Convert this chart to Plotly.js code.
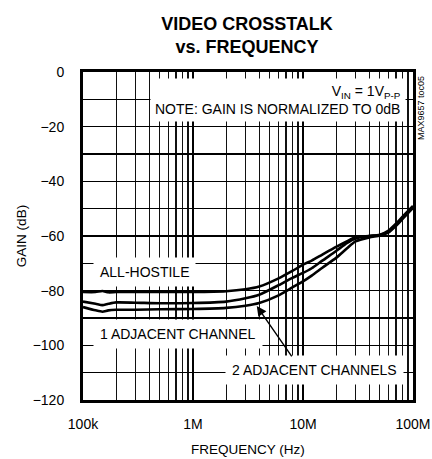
<!DOCTYPE html>
<html>
<head>
<meta charset="utf-8">
<script src="https://cdn.plot.ly/plotly-3.0.1.min.js"></script>
<style>html,body{margin:0;padding:0;background:#fff;}#chart{width:432px;height:459px;}</style>
</head>
<body>
<div id="chart"></div>
<script>
// Frequency (Hz)
const freq = [1e5, 1.3e5, 1.5e5, 1.7e5, 2e5, 3e5, 5e5, 1e6, 2e6, 3e6, 4e6, 6e6, 8e6, 1e7, 1.2e7, 1.5e7, 2e7, 2.5e7, 3e7, 4e7, 5e7, 6e7, 7e7, 8e7, 1e8];
// Gain (dB)
const allHostile = [-80.5, -80.5, -80.1, -80.6, -80.5, -80.5, -80.5, -80.5, -80.2, -79.5, -78.5, -75.5, -72.8, -70.5, -69, -66.8, -64, -62, -60.5, -60, -59.5, -58, -55.5, -53, -49];
const oneAdj = [-84, -84.8, -85.3, -84.8, -84.3, -84.4, -84.6, -84.5, -84, -82.8, -81.5, -78, -75.3, -73.5, -71.8, -69, -65.5, -62.6, -60.9, -60, -59.6, -58.4, -56, -53.5, -49.4];
const twoAdj = [-86, -87.2, -87.7, -87.2, -87, -87, -86.8, -86.7, -86.3, -85.5, -84.5, -81.7, -78.8, -76.6, -74.5, -71.6, -68, -64.6, -62, -60.5, -59.8, -58.7, -56.3, -53.8, -49.7];

const xTickVals = [1e5, 1e6, 1e7, 1e8];
const xTickText = ['100k', '1M', '10M', '100M'];
const decades = [1e5, 1e6, 1e7];
const minorMult = [2, 3, 4, 5, 6, 7, 8, 9];
const xMinorVals = [];
decades.forEach(d => minorMult.forEach(m => xMinorVals.push(d * m)));

const lineStyle = {color: '#000', width: 2.6, shape: 'spline', smoothing: 0.6};
const traces = [
  {x: freq, y: allHostile, mode: 'lines', line: lineStyle, name: 'ALL-HOSTILE'},
  {x: freq, y: oneAdj, mode: 'lines', line: lineStyle, name: '1 ADJACENT CHANNEL'},
  {x: freq, y: twoAdj, mode: 'lines', line: lineStyle, name: '2 ADJACENT CHANNELS'}
];

const FONT = '"Liberation Sans", Arial, sans-serif';
const L = 83, R = 413, T = 72, B = 400, W = 432, H = 459;
const px = x => (x - L) / (R - L);
const py = y => (B - y) / (B - T);

const layout = {
  width: W, height: H,
  margin: {l: L, r: W - R, t: T, b: H - B, pad: 0},
  paper_bgcolor: '#fff', plot_bgcolor: '#fff',
  showlegend: false,
  font: {family: FONT, size: 14, color: '#000'},
  title: {
    text: '<b>VIDEO CROSSTALK<br>vs. FREQUENCY</b>',
    font: {family: FONT, size: 18, color: '#000'},
    x: px(247), xref: 'paper', xanchor: 'center',
    y: 1 - 30 / H, yref: 'container', yanchor: 'middle'
  },
  xaxis: {
    type: 'log', range: [5, 8],
    tickvals: xTickVals, ticktext: xTickText,
    ticks: '', ticklabelstandoff: 9,
    showgrid: true, gridcolor: '#000', gridwidth: 1.3,
    minor: {tickmode: 'array', tickvals: xMinorVals, ticks: '', showgrid: true, gridcolor: '#111', gridwidth: 1.1},
    showline: true, linecolor: '#000', linewidth: 3, mirror: true,
    zeroline: false,
    tickfont: {family: FONT, size: 14},
    title: {text: 'FREQUENCY (Hz)', font: {family: FONT, size: 13.5}, standoff: 14}
  },
  yaxis: {
    range: [-120, 0], dtick: 20, tick0: 0,
    ticks: '', ticklabelstandoff: 13,
    showgrid: true, gridcolor: '#000', gridwidth: 1.3,
    minor: {dtick: 10, ticks: '', showgrid: true, gridcolor: '#000', gridwidth: 1.3},
    showline: true, linecolor: '#000', linewidth: 3, mirror: true,
    zeroline: false,
    tickfont: {family: FONT, size: 14},
    title: {text: 'GAIN (dB)', font: {family: FONT, size: 13.5}, standoff: 3}
  },
  annotations: [
    {xref: 'paper', yref: 'paper', x: px(406), y: py(100), xanchor: 'right', yanchor: 'middle',
     text: 'V<sub>IN</sub> = 1V<sub>P-P</sub><br>NOTE: GAIN IS NORMALIZED TO 0dB', align: 'right',
     showarrow: false, bgcolor: '#fff', borderpad: 4, font: {family: FONT, size: 14}},
    {xref: 'paper', yref: 'paper', x: px(93), y: py(272), xanchor: 'left', yanchor: 'middle',
     text: 'ALL-HOSTILE', showarrow: false, bgcolor: '#fff', borderpad: 6, font: {family: FONT, size: 14}},
    {xref: 'paper', yref: 'paper', x: px(93), y: py(334), xanchor: 'left', yanchor: 'middle',
     text: '1 ADJACENT CHANNEL', showarrow: false, bgcolor: '#fff', borderpad: 6, font: {family: FONT, size: 14}},
    {xref: 'paper', yref: 'paper', x: px(404), y: py(370), xanchor: 'right', yanchor: 'middle',
     text: '2 ADJACENT CHANNELS', showarrow: false, bgcolor: '#fff', borderpad: 6, font: {family: FONT, size: 14}},
    {xref: 'x', yref: 'y', x: Math.log10(3.8e6), y: -85.6, text: '', showarrow: true,
     ax: 36, ay: 52, axref: 'pixel', ayref: 'pixel', arrowhead: 2, arrowsize: 1.4, arrowwidth: 1.4, arrowcolor: '#000', standoff: 0},
    {xref: 'paper', yref: 'paper', x: px(421), y: py(108), xanchor: 'center', yanchor: 'middle',
     text: 'MAX9657 toc05', textangle: -90, showarrow: false, font: {family: FONT, size: 9}}
  ]
};

Plotly.newPlot('chart', traces, layout, {staticPlot: true, displayModeBar: false});
</script>
</body>
</html>
